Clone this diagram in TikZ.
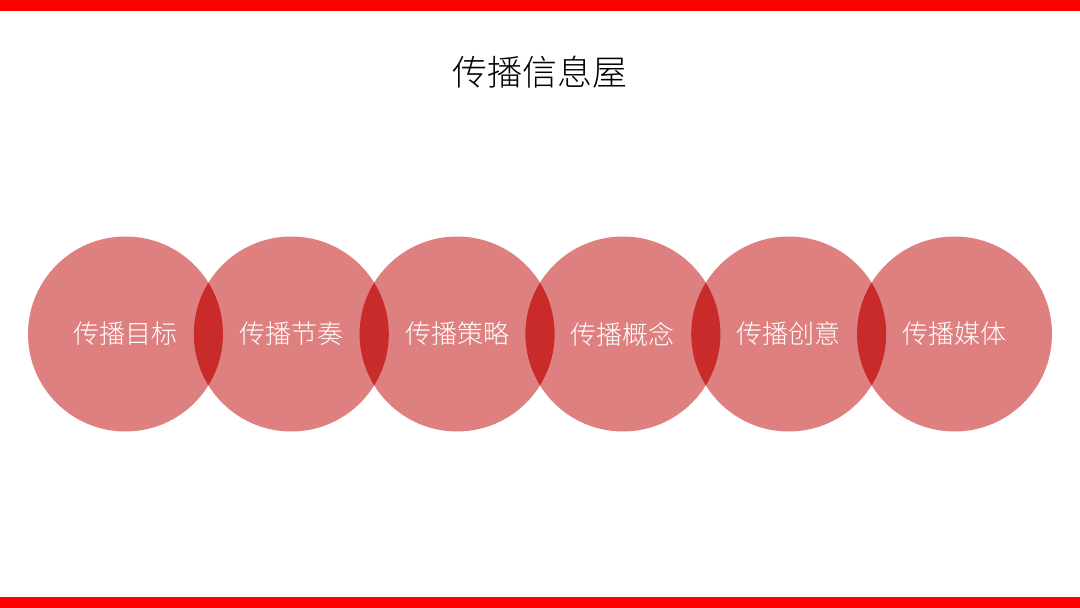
\documentclass[tikz,border=0pt]{standalone}
\usepackage{fontspec}
\newfontfamily\cjk{Noto Sans CJK SC Light}
\definecolor{barred}{RGB}{255,0,0}
\definecolor{ringred}{RGB}{223,128,128}
\definecolor{lensred}{RGB}{201,42,42}
\tikzset{
  ring/.style={circle, fill=ringred, minimum size=195pt, inner sep=0pt,
    text=white, font=\cjk\fontsize{26}{26}\selectfont},
}

\begin{document}
\begin{tikzpicture}[x=1pt, y=1pt]
    \useasboundingbox (0,0) rectangle (1080,608);
    \fill [barred] (0,597) rectangle (1080,608);
    \fill [barred] (0,0) rectangle (1080,11);
    \node [font=\cjk\fontsize{35}{35}\selectfont] (title) at (540,536) {传播信息屋};
    \foreach \t [count=\i] in {传播目标,传播节奏,传播策略,传播概念,传播创意,传播媒体}
        \node [ring] (c\i) at ({125.5+165.8*(\i-1)},274) {\t};
    % overlaps
    \foreach \i [evaluate=\i as \j using int(\i+1)] in {1,...,5} {
        \begin{scope}
            \clip (c\i.center) circle (97.5);
            \fill [lensred] (c\j.center) circle (97.5);
        \end{scope}
    }
\end{tikzpicture}
\end{document}
